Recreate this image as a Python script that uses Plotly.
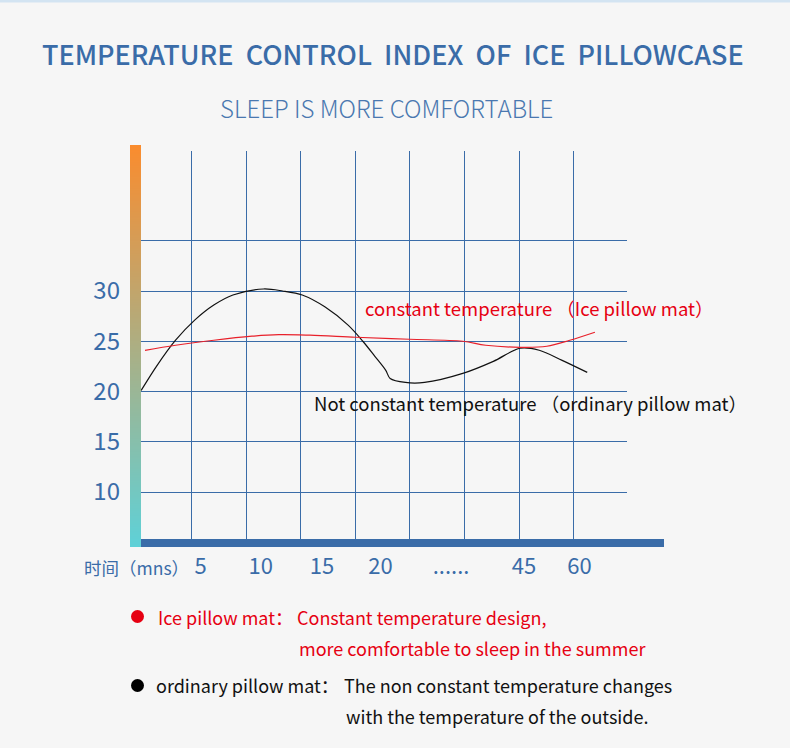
import plotly.graph_objects as go

W, H = 790, 748

# ---------------- data ----------------
title = "TEMPERATURE  CONTROL  INDEX  OF  ICE  PILLOWCASE"
subtitle = "SLEEP IS MORE COMFORTABLE"

# x in grid units (vertical grid lines at 1..8)
ordinary_x = [0.08, 0.36, 0.71, 1.06, 1.41, 1.76, 2.32, 2.67, 3.03, 3.45, 3.87,
              4.14, 4.36, 4.56, 4.64, 4.92, 5.27, 5.97, 6.53, 7.02, 7.37, 7.79, 8.25]
ordinary_y = [20.1, 22.5, 25.1, 27.1, 28.6, 29.6, 30.2, 30.0, 29.6, 28.4, 26.6,
              25.0, 23.5, 22.1, 21.3, 20.9, 20.9, 21.8, 23.0, 24.3, 24.1, 23.1, 21.9]

ice_x = [0.15, 0.71, 1.41, 2.11, 2.60, 3.17, 4.01, 4.99, 5.97, 6.39, 7.02, 7.51, 7.93, 8.39]
ice_y = [24.1, 24.6, 25.1, 25.5, 25.65, 25.6, 25.4, 25.2, 25.0, 24.6, 24.4, 24.5, 25.1, 25.9]

y_grid = [10, 15, 20, 25, 30, 35]
y_labels = ["10", "15", "20", "25", "30", ""]
x_grid = [1, 2, 3, 4, 5, 6, 7, 8]
x_tick_pos = [1.168, 2.269, 3.391, 4.462, 5.755, 7.092, 8.106]
x_tick_labels = ["5", "10", "15", "20", "......", "45", "60"]

BLUE = "#3a6ca8"
RED = "#e60012"
FONT = "Noto Sans CJK SC"

fig = go.Figure()

fig.add_trace(go.Scatter(x=ordinary_x, y=ordinary_y, mode="lines",
                         line=dict(color="#111111", width=1.2, shape="spline", smoothing=0.9),
                         hoverinfo="skip", showlegend=False))
fig.add_trace(go.Scatter(x=ice_x, y=ice_y, mode="lines",
                         line=dict(color="#e8202a", width=1.2, shape="spline", smoothing=1.0),
                         hoverinfo="skip", showlegend=False))

# gradient bar on its own axes
n = 101
grad_y = [i / (n - 1) for i in range(n)]
fig.add_trace(go.Heatmap(z=[[v] for v in grad_y], x=[0], y=grad_y,
                         colorscale=[[0, "#5ed1d8"], [1, "#fa8c2e"]],
                         showscale=False, hoverinfo="skip", zsmooth="best",
                         xaxis="x3", yaxis="y3"))

def px(x):
    return x / W

def py(y):
    return 1 - y / H

fig.update_layout(
    width=W, height=H,
    margin=dict(l=0, r=0, t=0, b=0),
    paper_bgcolor="#f6f6f6", plot_bgcolor="rgba(0,0,0,0)",
    showlegend=False,
    font=dict(family=FONT),
    xaxis=dict(domain=[px(141), px(627)], range=[0.0769, 8.978],
               showgrid=False, zeroline=False, showline=False,
               tickmode="array", tickvals=x_tick_pos, ticktext=x_tick_labels,
               ticks="", ticklabelstandoff=8,
               tickfont=dict(size=22, color=BLUE, family=FONT),
               minor=dict(tickmode="array", tickvals=x_grid, showgrid=True,
                          gridcolor=BLUE, gridwidth=1.2, ticks="")),
    yaxis=dict(domain=[py(543), py(151)], range=[4.925, 43.93],
               showgrid=True, gridcolor=BLUE, gridwidth=1.2,
               zeroline=False, showline=False,
               tickmode="array", tickvals=y_grid, ticktext=y_labels,
               ticks="", ticklabelstandoff=20,
               tickfont=dict(size=24, color=BLUE, family=FONT)),
    xaxis3=dict(domain=[px(130), px(141)], visible=False, anchor="y3", range=[-0.5, 0.5]),
    yaxis3=dict(domain=[py(547), py(145)], visible=False, anchor="x3", range=[0, 1]),
)

shapes = [
    dict(type="rect", xref="paper", yref="paper", x0=px(141), x1=px(664),
         y0=py(547), y1=py(539), fillcolor=BLUE, line=dict(width=0), layer="above"),
    dict(type="line", xref="paper", yref="paper", x0=0, x1=1, y0=py(1), y1=py(1),
         line=dict(color="#d3e4f2", width=3)),
    dict(type="circle", xref="paper", yref="paper", x0=px(131), x1=px(144),
         y0=py(623), y1=py(610), fillcolor=RED, line=dict(width=0)),
    dict(type="circle", xref="paper", yref="paper", x0=px(131), x1=px(144),
         y0=py(692), y1=py(679), fillcolor="#000000", line=dict(width=0)),
]
fig.update_layout(shapes=shapes)

def ann(text, x, y, size, color, xanchor="left", weight=None):
    f = dict(size=size, color=color, family=FONT)
    if weight:
        f["weight"] = weight
    fig.add_annotation(text=text, x=px(x), y=py(y), xref="paper", yref="paper",
                       xanchor=xanchor, yanchor="middle", showarrow=False, font=f)

ann(title, 392.5, 54, 27, BLUE, xanchor="center", weight=500)
ann(subtitle, 386, 107, 24, "#4a78b0", xanchor="center", weight=300)
ann("constant temperature （Ice pillow mat）", 363, 308, 18.5, RED)
ann("Not constant temperature （ordinary pillow mat）", 312, 403, 18.5, "#111111")
ann("时间（mns）", 82, 567, 17.5, BLUE)
ann("Ice pillow mat：", 156, 617, 18, RED)
ann("Constant temperature design,", 295, 617, 18, RED)
ann("more comfortable to sleep in the summer", 297, 648, 18, RED)
ann("ordinary pillow mat：", 154, 685, 18, "#111111")
ann("The non constant temperature changes", 342, 685, 18, "#111111")
ann("with the temperature of the outside.", 344, 716, 18, "#111111")

fig.write_html("out.html")
